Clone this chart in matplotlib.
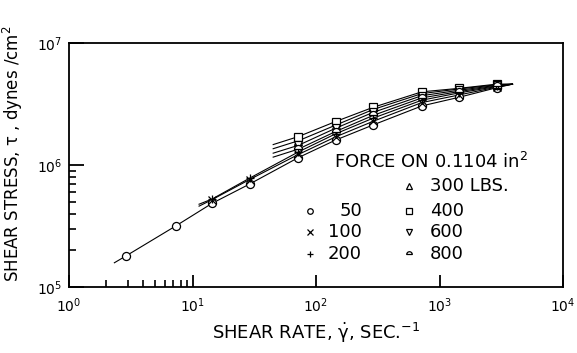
import numpy as np
import matplotlib
matplotlib.use("Agg")
import matplotlib.pyplot as plt
from matplotlib.path import Path

plt.rcParams['font.family'] = ['DejaVu Sans']
plt.rcParams['mathtext.default'] = 'regular'

# shear rate (1/s) at which each capillary run was measured
rate_low = [2.9, 7.3, 14.4, 29]
rate_high = [72, 144, 290, 720, 1440, 2900]

# shear stress (dynes/cm^2) for each applied force (lbs)
stress_50 = [1.8e5, 3.16e5, 4.85e5, 6.98e5, 1.15e6, 1.6e6, 2.13e6, 3.05e6, 3.59e6, 4.3e6]
stress_100 = [5.2e5, 7.6e5, 1.22e6, 1.7e6, 2.28e6, 3.25e6, 3.75e6, 4.35e6]
stress_200 = [5.26e5, 7.8e5, 1.28e6, 1.8e6, 2.42e6, 3.4e6, 3.9e6, 4.4e6]
stress_300 = [1.58e6, 2.12e6, 2.85e6, 3.85e6, 4.2e6, 4.55e6]
stress_400 = [1.71e6, 2.27e6, 2.97e6, 3.98e6, 4.25e6, 4.6e6]
stress_600 = [1.45e6, 2.0e6, 2.7e6, 3.7e6, 4.1e6, 4.5e6]
stress_800 = [1.35e6, 1.88e6, 2.55e6, 3.55e6, 4.0e6, 4.45e6]

# ends of the faired curves drawn through each set of points
curve_start_x = [2.33, 11.3, 11.3, 45, 45, 45, 45]
curve_start_y = [1.58e5, 4.6e5, 4.77e5, 1.36e6, 1.47e6, 1.25e6, 1.16e6]
curve_end_x = [3900] * 7
curve_end_y = [4.6e6] * 7

forces = ['50', '100', '200', '300', '400', '600', '800']

# half-circle marker for the 800 lb runs
arc = Path.arc(0, 180)
dome = Path(np.vstack([arc.vertices, arc.vertices[:1]]),
            list(arc.codes) + [Path.CLOSEPOLY])

series = [
    (rate_low + rate_high, stress_50, 'o'),
    (rate_low[2:] + rate_high, stress_100, 'x'),
    (rate_low[2:] + rate_high, stress_200, '+'),
    (rate_high, stress_300, '^'),
    (rate_high, stress_400, 's'),
    (rate_high, stress_600, 'v'),
    (rate_high, stress_800, dome),
]

fig = plt.figure(figsize=(5.77, 3.53), dpi=100)
ax = fig.add_axes([69 / 577, 66 / 353, 494 / 577, 244 / 353])

for i, (xs, ys, mk) in enumerate(series):
    cx = [curve_start_x[i]] + list(xs) + [curve_end_x[i]]
    cy = [curve_start_y[i]] + list(ys) + [curve_end_y[i]]
    ax.plot(cx, cy, color='black', lw=0.8, zorder=2)
    ax.plot(xs, ys, ls='none', marker=mk, ms=5.8, mfc='white', mec='black',
            mew=0.9, zorder=3)

ax.set_xscale('log')
ax.set_yscale('log')
ax.set_xlim(1, 1e4)
ax.set_ylim(1e5, 1e7)

for s in ax.spines.values():
    s.set_linewidth(1.3)

ax.set_xticks([1, 10, 100, 1000, 10000])
ax.set_xticklabels([r'$10^{0}$', r'$10^{1}$', r'$10^{2}$', r'$10^{3}$', r'$10^{4}$'])
ax.set_xticks([2, 3, 4, 5, 6, 7, 8, 9], minor=True)
ax.set_xticklabels([], minor=True)
ax.set_yticks([1e5, 1e6, 1e7])
ax.set_yticklabels([r'$10^{5}$', r'$10^{6}$', r'$10^{7}$'])
ax.set_yticks([2e5, 3e5, 4e5, 5e5, 6e5, 7e5, 8e5, 9e5], minor=True)
ax.set_yticklabels([], minor=True)
ax.tick_params(axis='x', which='major', direction='in', length=9, width=1.3,
               labelsize=10, pad=7)
ax.tick_params(axis='x', which='minor', direction='in', length=5, width=1.2)
ax.tick_params(axis='y', which='major', direction='in', length=11, width=1.3,
               labelsize=10, pad=5)
ax.tick_params(axis='y', which='minor', direction='in', length=5, width=1.2)

ax.set_xlabel(r'SHEAR RATE, $\dot{\gamma}$, SEC.$^{-1}$', fontsize=13, labelpad=4)
ax.set_ylabel(r'SHEAR STRESS, $\tau$ , dynes /cm$^{2}$', fontsize=12)
ax.yaxis.set_label_coords(-0.09, 0.545)

# legend block laid out by hand in axes fractions
ax.text(0.536, 0.512, r'FORCE ON 0.1104 in$^{2}$', transform=ax.transAxes,
        fontsize=13, va='center', ha='left')
rows = [0.414, 0.311, 0.225, 0.135]
for j, i in enumerate([0, 1, 2]):
    ax.plot([0.488], [rows[j + 1]], transform=ax.transAxes, ls='none',
            marker=series[i][2], ms=4, mfc='white', mec='black', mew=0.9,
            clip_on=False)
    ax.text(0.593, rows[j + 1], forces[i], transform=ax.transAxes,
            fontsize=13, va='center', ha='right')
for j, i in enumerate([3, 4, 5, 6]):
    ax.plot([0.688], [rows[j]], transform=ax.transAxes, ls='none',
            marker=series[i][2], ms=4, mfc='white', mec='black', mew=0.9,
            clip_on=False)
    label = forces[i] + ' LBS.' if i == 3 else forces[i]
    ax.text(0.731, rows[j], label, transform=ax.transAxes,
            fontsize=13, va='center', ha='left')

fig.savefig('out.png', dpi=100)
